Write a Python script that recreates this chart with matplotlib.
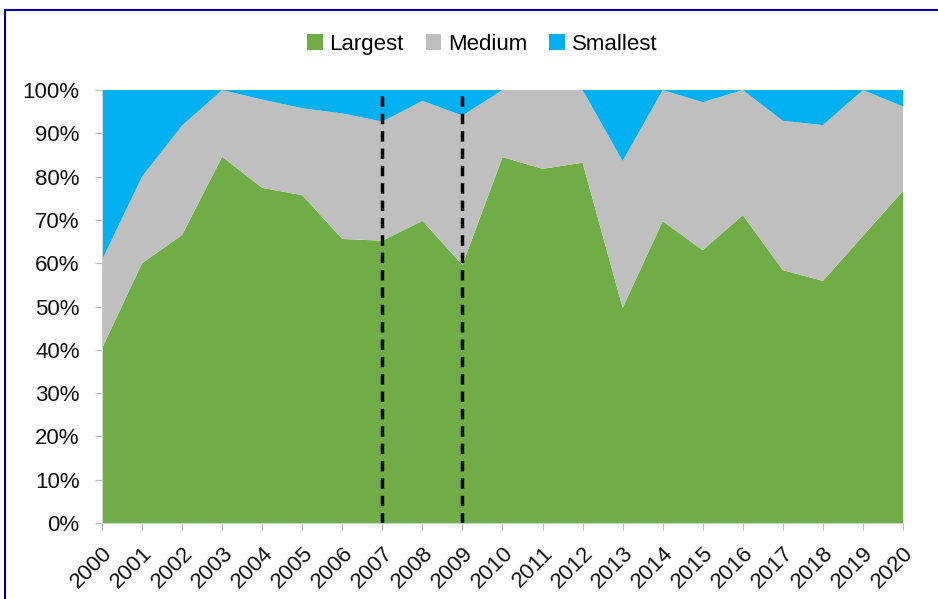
import numpy as np
import matplotlib.pyplot as plt
from matplotlib.patches import Rectangle

plt.rcParams['font.family'] = ['Liberation Sans', 'DejaVu Sans']

years = list(range(2000, 2021))
largest = [40.3, 60.0, 66.5, 84.6, 77.4, 75.7, 65.6, 65.2, 69.8, 59.6, 84.5,
           81.8, 83.2, 49.7, 69.7, 63.0, 71.1, 58.4, 55.9, 66.3, 76.7]
top_medium = [60.7, 80.0, 91.8, 100, 97.8, 95.8, 94.6, 92.7, 97.5, 94.1, 100,
              100, 100, 83.6, 100, 97.2, 100, 92.9, 91.9, 100, 96.2]
medium = [t - l for t, l in zip(top_medium, largest)]
smallest = [100 - t for t in top_medium]
crisis_years = [2007, 2009]

fig = plt.figure(figsize=(9.38, 5.99), dpi=100)
ax = fig.add_axes([0.1087, 0.1269, 0.9627 - 0.1087, 0.8497 - 0.1269])

ax.stackplot(years, largest, medium, smallest,
             colors=['#70ad47', '#bfbfbf', '#00b0f0'],
             labels=['Largest', 'Medium', 'Smallest'])

for yr in crisis_years:
    ax.plot([yr, yr], [0, 98.8], color='black', ls=(0, (3, 2)), lw=2.5)

ax.set_xlim(2000, 2020)
ax.set_ylim(0, 100)
ax.set_yticks(range(0, 101, 10))
ax.set_yticklabels([f'{v}%' for v in range(0, 101, 10)])
ax.set_xticks(years)
ax.set_xticklabels([str(y) for y in years], rotation=45, ha='right',
                   rotation_mode='anchor')
ax.tick_params(axis='both', labelsize=16, color='#bfbfbf', length=5,
               labelcolor='#111111')
ax.tick_params(axis='y', pad=11)
ax.tick_params(axis='x', pad=9)
for side in ['top', 'right']:
    ax.spines[side].set_visible(False)
for side in ['left', 'bottom']:
    ax.spines[side].set_color('#d0d0d0')
ax.axhline(100, color='#d9d9d9', lw=1.5, zorder=0.5)

leg = fig.legend(loc='center', bbox_to_anchor=(0.514, 0.9265), ncol=3,
                 frameon=False, fontsize=16, handlelength=0.7,
                 handleheight=0.7, handletextpad=0.3, columnspacing=1.0)

# outer frame
fig.patches.append(Rectangle((5 / 938, -0.05), 1.0, 1 - 10 / 599 + 0.05,
                             transform=fig.transFigure, fill=False,
                             edgecolor='#000099', lw=1.5))

fig.savefig('out.png', dpi=100)
